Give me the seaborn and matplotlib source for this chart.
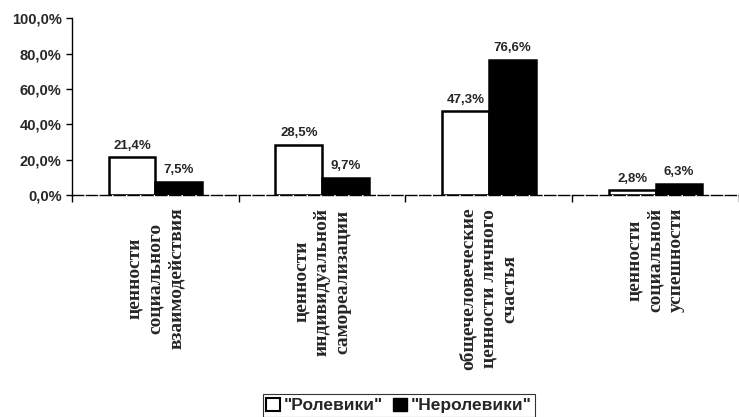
import pandas as pd
import seaborn as sns
import matplotlib.pyplot as plt
from matplotlib.patches import Patch
from matplotlib.ticker import MultipleLocator, FuncFormatter

# chart data
categories = ["ценности\nсоциального\nвзаимодействия",
              "ценности\nиндивидуальной\nсамореализации",
              "общечеловеческие\nценности личного\nсчастья",
              "ценности\nсоциальной\nуспешности"]
series = ['"Ролевики"', '"Неролевики"']
roleplayers = [21.4, 28.5, 47.3, 2.8]
nonroleplayers = [7.5, 9.7, 76.6, 6.3]
ytick_values = [0, 20, 40, 60, 80, 100]

df = pd.DataFrame({
    "category": categories * 2,
    "group": [series[0]] * len(categories) + [series[1]] * len(categories),
    "value": roleplayers + nonroleplayers,
})

sns.set_style("white")
plt.rcParams['font.family'] = ['Liberation Sans', 'DejaVu Sans']
plt.rcParams['font.weight'] = 'bold'

fig = plt.figure(figsize=(7.39, 4.17), dpi=100)
ax = fig.add_axes([0.0974, 0.532, 0.9026, 0.4245])

sns.barplot(data=df, x="category", y="value", hue="group",
            palette=["white", "black"], edgecolor="black", linewidth=1.8,
            width=0.56, saturation=1, legend=False, ax=ax)

# value labels above bars
for container, vals in zip(ax.containers, [roleplayers, nonroleplayers]):
    ax.bar_label(container, labels=[f"{v:.1f}%".replace(".", ",") for v in vals],
                 padding=4, fontsize=9.5, fontweight="bold")

ax.set_ylim(0, 100)
ax.set_xlim(-0.5, 3.5)
ax.set_yticks(ytick_values)
ax.yaxis.set_major_formatter(FuncFormatter(lambda v, _: f"{v:.1f}%".replace(".", ",")))
ax.tick_params(axis="y", labelsize=10.5, length=4, width=1, color="black", direction="out", left=True)

ax.set_xticks(range(len(categories)))
ax.set_xticklabels(categories, rotation=90, ha="center", va="top", multialignment="center",
                   family=["Liberation Serif", "DejaVu Serif"], fontsize=14,
                   fontweight="bold", linespacing=1.3)
ax.xaxis.set_minor_locator(MultipleLocator(1, offset=0.5))
ax.tick_params(axis="x", which="major", length=0, pad=9)
ax.tick_params(axis="x", which="minor", length=5, width=1, color="black", bottom=True)

ax.set_xlabel("")
ax.set_ylabel("")
sns.despine(ax=ax)
ax.spines["left"].set_color("black")
ax.spines["left"].set_linewidth(1)
ax.spines["bottom"].set_color("black")
ax.spines["bottom"].set_linewidth(1)
ax.spines["bottom"].set_linestyle((0, (8, 2)))

handles = [Patch(facecolor="white", edgecolor="black", linewidth=1.5),
           Patch(facecolor="black", edgecolor="black")]
leg = fig.legend(handles, series, loc="lower center", bbox_to_anchor=(0.54, -0.02), ncol=2,
                 frameon=True, fancybox=False, edgecolor="black",
                 prop=dict(weight="bold", size=12.5), handlelength=0.8, handleheight=0.8,
                 handletextpad=0.2, columnspacing=0.6, borderpad=0.2)
leg.get_frame().set_linewidth(0.8)

fig.savefig("out.png", dpi=100)
